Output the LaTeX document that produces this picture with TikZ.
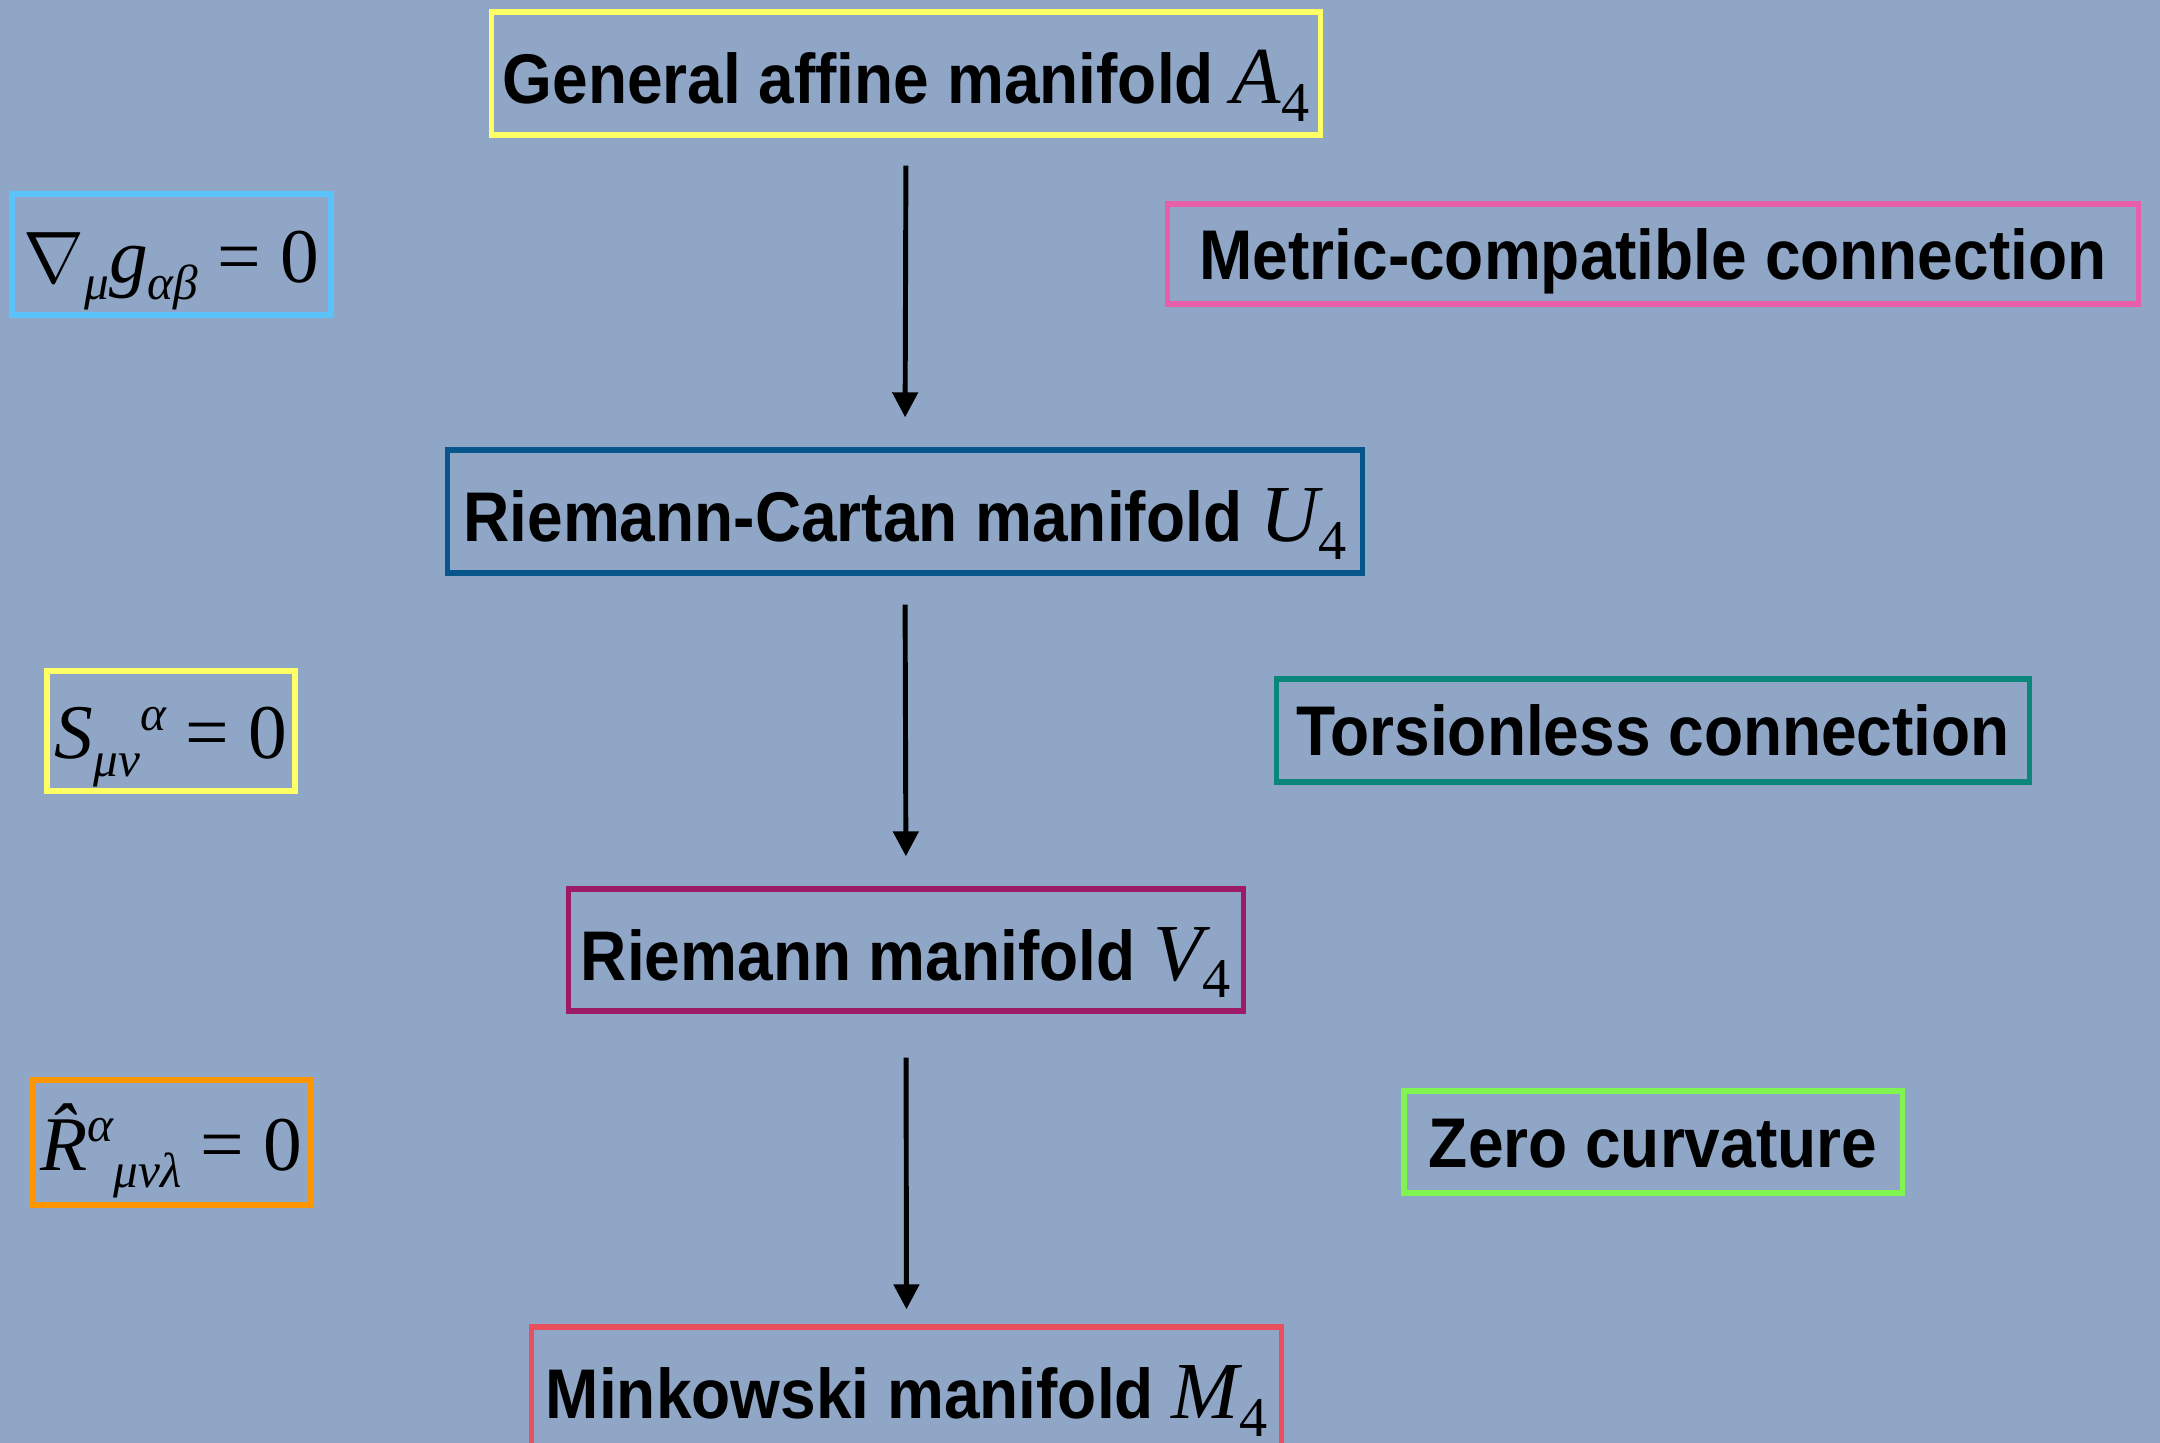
\documentclass[tikz,border=0pt]{standalone}
\usepackage[no-math]{fontspec}
\newfontfamily\labfont{Liberation Sans}[FakeStretch=0.91]
\newfontfamily\serifmath{Liberation Serif}
\usetikzlibrary{arrows.meta}
\definecolor{bg}{RGB}{143,166,198}
\definecolor{cyellow}{RGB}{255,255,102}
\definecolor{clblue}{RGB}{90,196,250}
\definecolor{cpink}{RGB}{232,94,168}
\definecolor{cdblue}{RGB}{6,86,140}
\definecolor{cteal}{RGB}{12,134,122}
\definecolor{cmag}{RGB}{156,26,102}
\definecolor{corange}{RGB}{255,149,0}
\definecolor{cgreen}{RGB}{128,244,80}
\definecolor{cred}{RGB}{232,80,92}
% italic serif letter with subscript 4, as in the labels
\newcommand{\mani}[1]{{\serifmath\mdseries\itshape\fontsize{23}{26}\selectfont #1\raisebox{-5pt}{\upshape\fontsize{16}{16}\selectfont 4}}}
\newcommand{\eqsb}[1]{\raisebox{-5pt}{\fontsize{14}{14}\selectfont #1}}
\newcommand{\eqsp}[1]{\raisebox{8pt}{\fontsize{14}{14}\selectfont #1}}
\tikzset{
  frame/.style={draw, line width=1.5pt, inner sep=0pt, align=center},
  lab/.style={frame, font=\labfont\bfseries\fontsize{20}{24}\selectfont, text height=0.6cm, text depth=0cm},
  desc/.style={frame, font=\labfont\bfseries\fontsize{20}{24}\selectfont, text height=0.5cm, text depth=0cm},
  eqbox/.style={frame, font=\serifmath\itshape\fontsize{22}{26}\selectfont, text height=0.55cm, text depth=0cm},
  arr/.style={line width=1.4pt, -{Triangle[width=0.25cm,length=0.25cm]}}
}
\begin{document}
\begin{tikzpicture}[x=0.01cm,y=-0.01cm]
\useasboundingbox (0,0) rectangle (2160,1443);
\begin{scope}
\clip (0,0) rectangle (2160,1443);
\fill[bg] (0,0) rectangle (2160,1443);
% main column
\node[lab, draw=cyellow, minimum width=8.28cm, minimum height=1.23cm] (A) at (906,73.5) {General affine manifold \mani{A}};
\node[lab, draw=cdblue, minimum width=9.14cm, minimum height=1.23cm] (U) at (905,511.5) {Riemann-Cartan manifold \mani{U}};
\node[lab, draw=cmag, minimum width=6.74cm, minimum height=1.22cm] (V) at (906,950) {Riemann manifold \mani{V}};
\node[lab, draw=cred, minimum width=7.49cm, minimum height=1.23cm] (M) at (906.5,1388.5) {Minkowski manifold \mani{M}};
% left conditions
\node[eqbox, draw=clblue, minimum width=3.19cm, minimum height=1.21cm] (c1) at (171.5,254.5) {$\nabla$\eqsb{μ}g\eqsb{αβ} {\upshape = 0}};
\node[eqbox, draw=cyellow, minimum width=2.48cm, minimum height=1.20cm] (c2) at (171,731) {S\eqsb{μν}\eqsp{α} {\upshape = 0}};
\node[eqbox, draw=corange, minimum width=2.79cm, minimum height=1.25cm] (c3) at (171.5,1142.5) {\^{R}\eqsp{α}\eqsb{μνλ} {\upshape = 0}};
% right descriptions
\node[desc, draw=cpink, minimum width=9.70cm, minimum height=1.00cm] (d1) at (1653,254) {Metric-compatible connection};
\node[desc, draw=cteal, minimum width=7.52cm, minimum height=1.03cm] (d2) at (1653,730.5) {Torsionless connection};
\node[desc, draw=cgreen, minimum width=4.98cm, minimum height=1.02cm] (d3) at (1653,1142) {Zero curvature};
% arrows
\draw[arr, shorten <=0.28cm, shorten >=0.30cm] (A.south) -- (U.north);
\draw[arr, shorten <=0.29cm, shorten >=0.30cm] (U.south) -- (V.north);
\draw[arr, shorten <=0.44cm, shorten >=0.15cm] (V.south) -- (M.north);
\end{scope}
\end{tikzpicture}
\end{document}
